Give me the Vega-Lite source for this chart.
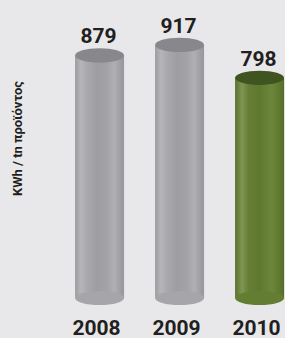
{
  "$schema": "https://vega.github.io/schema/vega-lite/v6.json",
  "width": 240,
  "height": 298,
  "autosize": "none",
  "padding": {"left": 45, "top": 0, "right": 0, "bottom": 40},
  "background": "#e8e8ea",
  "config": {"view": {"stroke": null}},
  "data": {
    "values": [
      {"year": "2008", "value": 879, "group": "past"},
      {"year": "2009", "value": 917, "group": "past"},
      {"year": "2010", "value": 798, "group": "current"}
    ]
  },
  "encoding": {
    "x": {
      "field": "year",
      "type": "ordinal",
      "scale": {"paddingInner": 0.3875, "paddingOuter": 0.19375, "align": 0.97},
      "axis": {
        "title": null,
        "domain": false,
        "ticks": false,
        "labelAngle": 0,
        "labelFont": "Roboto",
        "labelFontWeight": "bold",
        "labelFontSize": 21,
        "labelColor": "#231f20",
        "labelPadding": 19,
        "labelOffset": -3
      }
    }
  },
  "layer": [
    {
      "transform": [{"filter": "datum.group === 'past'"}],
      "mark": {
        "type": "bar",
        "color": {
          "gradient": "linear", "x1": 0, "x2": 1, "y1": 0, "y2": 0,
          "stops": [
            {"offset": 0, "color": "#9c9ca0"},
            {"offset": 0.12, "color": "#b6b6ba"},
            {"offset": 0.25, "color": "#a9a9ad"},
            {"offset": 0.45, "color": "#9e9ea2"},
            {"offset": 0.65, "color": "#a3a3a7"},
            {"offset": 0.8, "color": "#b0b0b4"},
            {"offset": 0.92, "color": "#a0a0a4"},
            {"offset": 1, "color": "#97979b"}
          ]
        }
      },
      "encoding": {
        "y": {
          "field": "value",
          "type": "quantitative",
          "scale": {"domain": [0, 1080], "nice": false},
          "axis": {
            "title": "KWh / tn προϊόντος",
            "domain": false,
            "ticks": false,
            "labels": false,
            "grid": false,
            "titleFont": "Roboto",
            "titleFontWeight": "bold",
            "titleFontSize": 13,
            "titleColor": "#231f20",
            "titleAngle": 270,
            "titleAlign": "center",
            "titleBaseline": "middle",
            "titleX": -28,
            "titleY": 138
          }
        }
      }
    },
    {
      "transform": [{"filter": "datum.group === 'current'"}],
      "mark": {
        "type": "bar",
        "color": {
          "gradient": "linear", "x1": 0, "x2": 1, "y1": 0, "y2": 0,
          "stops": [
            {"offset": 0, "color": "#57712c"},
            {"offset": 0.14, "color": "#7f9652"},
            {"offset": 0.28, "color": "#657e35"},
            {"offset": 0.5, "color": "#5e782e"},
            {"offset": 0.75, "color": "#6c873a"},
            {"offset": 0.9, "color": "#5f7a30"},
            {"offset": 1, "color": "#546c2a"}
          ]
        }
      },
      "encoding": {"y": {"field": "value", "type": "quantitative"}}
    },
    {
      "transform": [{"filter": "datum.group === 'past'"}],
      "mark": {
        "type": "point",
        "filled": true,
        "opacity": 1,
        "size": 2401,
        "shape": "M -1 0 A 1 0.29 0 1 1 1 0 A 1 0.29 0 1 1 -1 0 Z",
        "color": "#a6a6aa"
      },
      "encoding": {"y": {"datum": 0, "type": "quantitative"}}
    },
    {
      "transform": [{"filter": "datum.group === 'current'"}],
      "mark": {
        "type": "point",
        "filled": true,
        "opacity": 1,
        "size": 2401,
        "shape": "M -1 0 A 1 0.29 0 1 1 1 0 A 1 0.29 0 1 1 -1 0 Z",
        "color": "#637d33"
      },
      "encoding": {"y": {"datum": 0, "type": "quantitative"}}
    },
    {
      "transform": [{"filter": "datum.group === 'past'"}],
      "mark": {
        "type": "point",
        "filled": true,
        "opacity": 1,
        "size": 2401,
        "shape": "M -1 0 A 1 0.29 0 1 1 1 0 A 1 0.29 0 1 1 -1 0 Z",
        "color": "#88888c"
      },
      "encoding": {"y": {"field": "value", "type": "quantitative"}}
    },
    {
      "transform": [{"filter": "datum.group === 'current'"}],
      "mark": {
        "type": "point",
        "filled": true,
        "opacity": 1,
        "size": 2401,
        "shape": "M -1 0 A 1 0.29 0 1 1 1 0 A 1 0.29 0 1 1 -1 0 Z",
        "color": "#3f5420"
      },
      "encoding": {"y": {"field": "value", "type": "quantitative"}}
    },
    {
      "mark": {
        "type": "text",
        "font": "Roboto",
        "fontWeight": "bold",
        "fontSize": 21,
        "color": "#231f20",
        "baseline": "alphabetic",
        "dy": -12,
        "dx": -1
      },
      "encoding": {
        "y": {"field": "value", "type": "quantitative"},
        "text": {"field": "value", "type": "quantitative"}
      }
    }
  ]
}
